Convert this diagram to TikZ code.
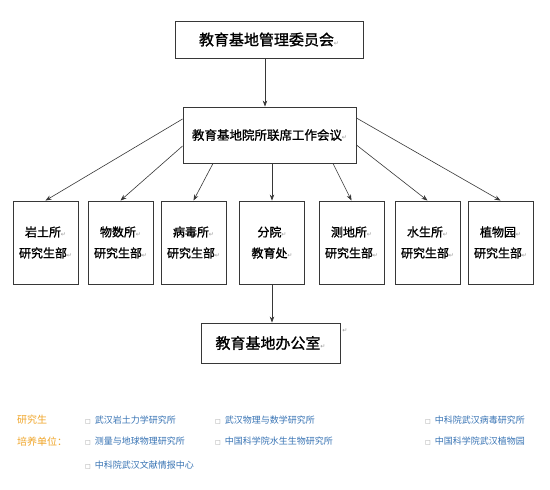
\documentclass[tikz,border=0pt]{standalone}
\usepackage{fontspec}
\newfontfamily\cjk{Noto Sans CJK SC}
\newfontfamily\cjkb[FakeBold=1.2]{Noto Sans CJK SC}
\newfontfamily\symf{DejaVu Sans}
\usetikzlibrary{arrows.meta}
\definecolor{boxline}{RGB}{55,55,55}
\definecolor{legor}{RGB}{240,165,40}
\definecolor{legbl}{RGB}{55,115,180}
\definecolor{pmark}{RGB}{150,150,150}
\newcommand{\parmk}{{\symf\fontsize{6}{6}\selectfont\color{pmark}↵}}
\newcommand{\bul}{{\symf\fontsize{6}{6}\selectfont\color{pmark}□}\hspace{4pt}}
\tikzset{
  box/.style={draw=boxline, line width=0.9pt, fill=white, inner sep=0pt, align=center},
  topbox/.style={box, minimum width=188pt, minimum height=37pt, font=\cjkb\fontsize{15}{18}\selectfont},
  midbox/.style={box, minimum width=173pt, minimum height=56pt, font=\cjkb\fontsize{12.5}{15}\selectfont},
  unitbox/.style={box, minimum width=65pt, minimum height=83pt, font=\cjkb\fontsize{12}{21}\selectfont},
  offbox/.style={box, minimum width=139pt, minimum height=40pt, font=\cjkb\fontsize{15}{18}\selectfont},
  arr/.style={draw=boxline, line width=0.6pt, -{Stealth[length=6pt,width=4.5pt]}},
  legh/.style={anchor=west, inner sep=0pt, text=legor, font=\cjk\fontsize{10}{12}\selectfont},
  item/.style={anchor=west, inner sep=0pt, text=legbl, font=\cjk\fontsize{9}{11}\selectfont},
}
\begin{document}
\begin{tikzpicture}[x=1pt,y=-1pt]
\useasboundingbox[fill=white] (0,0) rectangle (550,490);
% boxes
\node[topbox] (b1) at (269,39.5) {教育基地管理委员会\parmk};
\node[midbox] (b2) at (269.5,135) {教育基地院所联席工作会议\parmk};
\node[unitbox] (c1) at (45.5,242.5) {岩土所\parmk\\研究生部\parmk};
\node[unitbox] (c2) at (120.5,242.5) {物数所\parmk\\研究生部\parmk};
\node[unitbox] (c3) at (193.5,242.5) {病毒所\parmk\\研究生部\parmk};
\node[unitbox] (c4) at (272,242.5) {分院\parmk\\教育处\parmk};
\node[unitbox] (c5) at (351.5,242.5) {测地所\parmk\\研究生部\parmk};
\node[unitbox] (c6) at (427.5,242.5) {水生所\parmk\\研究生部\parmk};
\node[unitbox] (c7) at (500.5,242.5) {植物园\parmk\\研究生部\parmk};
\node[offbox] (o) at (270.5,343) {教育基地办公室\parmk};
\node[inner sep=0pt] (om) at (345,331) {\parmk};
% connectors
\draw[arr] ([xshift=-4pt]b1.south) -- ([xshift=-4pt]b1.south |- b2.north);
\draw[arr] ([yshift=16pt]b2.west) -- (c1.north);
\draw[arr] ([yshift=-11pt]b2.west) -- (c2.north);
\draw[arr] ([xshift=-56.5pt]b2.south) -- (c3.north);
\draw[arr] (c4.north |- b2.south) -- (c4.north);
\draw[arr] ([xshift=63.5pt]b2.south) -- (c5.north);
\draw[arr] ([yshift=-10pt]b2.east) -- (c6.north);
\draw[arr] ([yshift=17pt]b2.east) -- (c7.north);
\draw[arr] (c4.south) -- (c4.south |- o.north);
% legend
\node[legh] (h1) at (17,420) {研究生};
\node[legh] (h2) at (17,442) {培养单位：};
\node[item] (i1) at (85,420) {\bul 武汉岩土力学研究所};
\node[item] (i2) at (215,420) {\bul 武汉物理与数学研究所};
\node[item] (i3) at (425,420) {\bul 中科院武汉病毒研究所};
\node[item] (i4) at (85,441) {\bul 测量与地球物理研究所};
\node[item] (i5) at (215,441) {\bul 中国科学院水生生物研究所};
\node[item] (i6) at (425,441) {\bul 中国科学院武汉植物园};
\node[item] (i7) at (85,465) {\bul 中科院武汉文献情报中心};
\end{tikzpicture}
\end{document}
